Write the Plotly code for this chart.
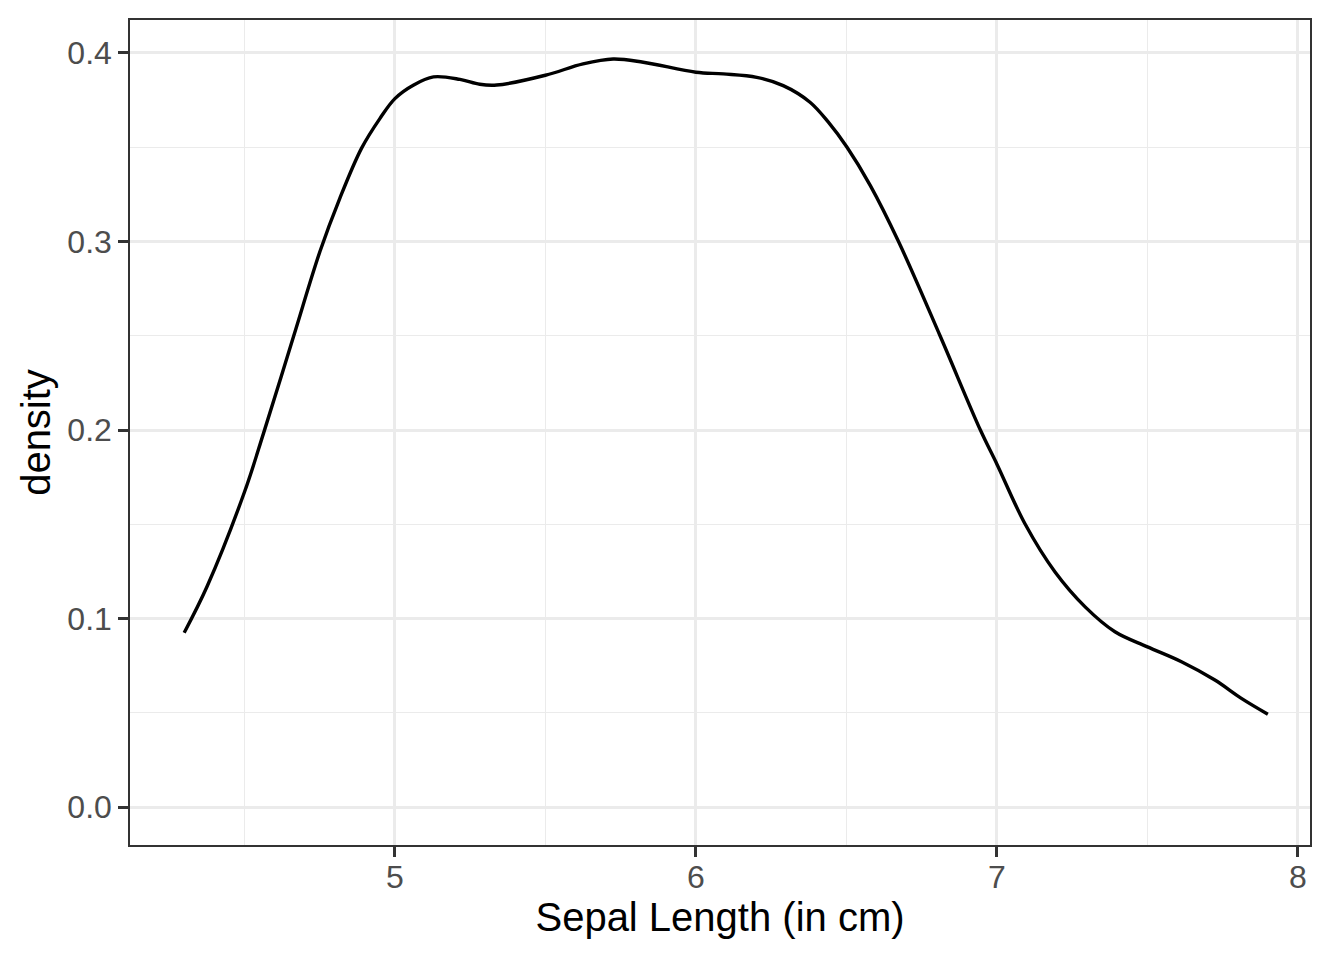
import plotly.graph_objects as go

# density curve of sepal length
sepal_len = [4.3, 4.376, 4.5, 4.564, 4.664, 4.751, 4.817, 4.889, 4.95, 5.0,
             5.061, 5.128, 5.216, 5.282, 5.338, 5.5, 5.625, 5.725, 5.825, 6.0,
             6.091, 6.202, 6.29, 6.379, 6.44, 6.502, 6.579, 6.673, 6.811, 6.945,
             7.0, 7.094, 7.193, 7.293, 7.392, 7.5, 7.613, 7.724, 7.812, 7.9]
density = [0.0925, 0.117, 0.167, 0.1985, 0.25, 0.2947, 0.3229, 0.3494, 0.3652, 0.3758,
           0.3829, 0.3873, 0.386, 0.3834, 0.383, 0.3882, 0.3942, 0.3968, 0.3951, 0.3898,
           0.3889, 0.3871, 0.3827, 0.3739, 0.3633, 0.35, 0.3298, 0.30, 0.25, 0.20,
           0.1819, 0.15, 0.1247, 0.1062, 0.093, 0.085, 0.0771, 0.0674, 0.0577, 0.0493]

x_ticks = [5, 6, 7, 8]
x_minor = [4.5, 5.5, 6.5, 7.5]
y_ticks = [0.0, 0.1, 0.2, 0.3, 0.4]
y_minor = [0.05, 0.15, 0.25, 0.35]

font = "Liberation Sans, Arial, sans-serif"
grid = "#ebebeb"

fig = go.Figure(
    go.Scatter(
        x=sepal_len,
        y=density,
        mode="lines",
        line=dict(color="black", width=3.4, shape="spline", smoothing=1.0),
        hoverinfo="skip",
    )
)

axis_common = dict(
    showgrid=True,
    gridcolor=grid,
    gridwidth=2.7,
    zeroline=False,
    showline=True,
    linecolor="#333333",
    linewidth=1.5,
    mirror=True,
    ticks="outside",
    ticklen=10,
    tickwidth=2.7,
    tickcolor="#333333",
    tickfont=dict(family=font, size=32, color="#4d4d4d"),
)

# the page body has an 8px margin, so the figure is shifted in by that much
fig.update_layout(
    width=1336,
    height=952,
    paper_bgcolor="white",
    plot_bgcolor="white",
    showlegend=False,
    margin=dict(l=122, r=34, t=10, b=115),
    font=dict(family=font),
    xaxis=dict(
        axis_common,
        range=[4.12, 8.04],
        tickvals=x_ticks,
        ticktext=[str(v) for v in x_ticks],
        ticklabelstandoff=-7,
        minor=dict(tickvals=x_minor, showgrid=True,
                   gridcolor=grid, gridwidth=1.4, ticks=""),
        title=dict(text="Sepal Length (in cm)", standoff=6,
                   font=dict(family=font, size=40, color="black")),
    ),
    yaxis=dict(
        axis_common,
        range=[-0.0201, 0.4175],
        tickvals=y_ticks,
        ticktext=[f"{v:.1f}" for v in y_ticks],
        minor=dict(tickvals=y_minor, showgrid=True,
                   gridcolor=grid, gridwidth=1.4, ticks=""),
        title=dict(text="density", standoff=4,
                   font=dict(family=font, size=40, color="black")),
    ),
)

fig.write_html("out.html")
